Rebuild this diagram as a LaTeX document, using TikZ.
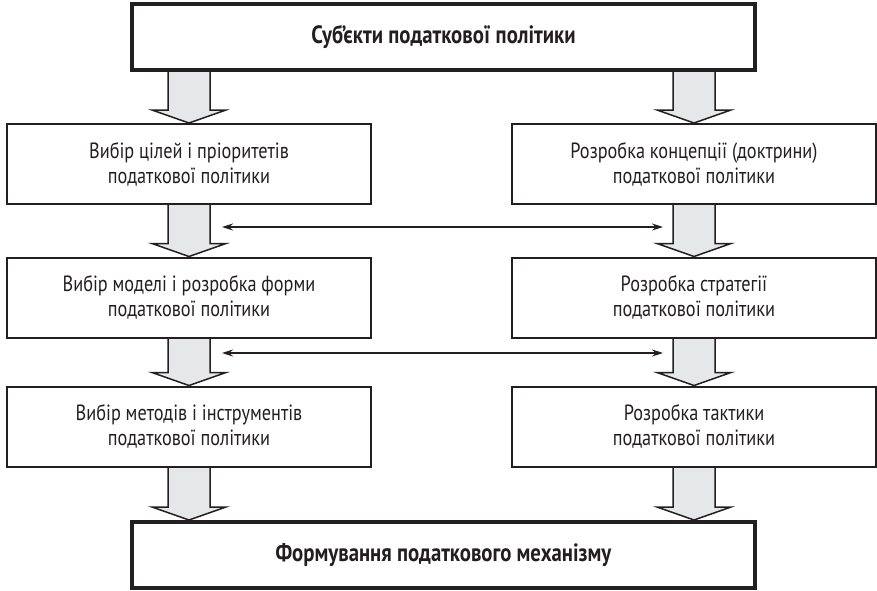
\documentclass[tikz,border=0pt]{standalone}
\usepackage{fontspec}
\setmainfont{PT Sans}[FakeStretch=0.83]
\usetikzlibrary{calc,arrows.meta}
\definecolor{ink}{HTML}{231F20}
\definecolor{arrowfill}{HTML}{E6E7E8}
\pgfdeclarelayer{bg}
\pgfsetlayers{bg,main}
\tikzset{
  stagebox/.style={draw=ink, fill=white, line width=2pt, minimum width=364pt,
    minimum height=80pt, inner sep=0pt, align=center, text=ink,
    font=\fontsize{22}{25}\selectfont},
  mainbox/.style={draw=ink, fill=white, line width=4pt, minimum width=623pt,
    minimum height=66pt, inner sep=0pt, text=ink,
    font=\bfseries\fontsize{25}{28}\selectfont},
  blockarrow/.style={fill=arrowfill, draw=ink, line width=1.5pt, line join=miter},
  linkarrow/.style={draw=ink, line width=1.2pt,
    {Stealth[length=11pt,width=7pt]}-{Stealth[length=11pt,width=7pt]}}
}
% wide hollow arrow: starts under node #1, ends with its tip on node #2,
% runs down the vertical axis of node #3
\newcommand\flowarrow[3]{%
  \filldraw[blockarrow] let \p1=(#1.south), \p2=(#2.north), \p3=(#3.center) in
    (\x3-21pt,\y1) -- (\x3-21pt,\y2+13pt) -- (\x3-37pt,\y2+13pt) -- (\x3,\y2)
    -- (\x3+37pt,\y2+13pt) -- (\x3+21pt,\y2+13pt) -- (\x3+21pt,\y1);
}
\begin{document}
\begin{tikzpicture}[x=1pt,y=-1pt]
  \useasboundingbox (0,0) rectangle (877,590);

  \node[mainbox] (subj) at (443.5,37) {Суб’єкти податкової політики};

  \node[stagebox] (l1) at (189,164) {Вибір цілей і пріоритетів\\податкової політики};
  \node[stagebox] (r1) at (694,164) {Розробка концепції (доктрини)\\податкової політики};
  \node[stagebox] (l2) at (189,297.5) {Вибір моделі і розробка форми\\податкової політики};
  \node[stagebox] (r2) at (694,297.5) {Розробка стратегії\\податкової політики};
  \node[stagebox] (l3) at (189,426.5) {Вибір методів і інструментів\\податкової політики};
  \node[stagebox] (r3) at (694,426.5) {Розробка тактики\\податкової політики};

  \node[mainbox] (mech) at (443.5,555) {Формування податкового механізму};

  \begin{pgfonlayer}{bg}
    \flowarrow{subj}{l1}{l1}
    \flowarrow{subj}{r1}{r1}
    \flowarrow{l1}{l2}{l2}
    \flowarrow{r1}{r2}{r2}
    \flowarrow{l2}{l3}{l3}
    \flowarrow{r2}{r3}{r3}
    \flowarrow{l3}{mech}{l3}
    \flowarrow{r3}{mech}{r3}
  \end{pgfonlayer}

  \coordinate (link1a) at (222,227);
  \coordinate (link1b) at (663,227);
  \coordinate (link2a) at (222,353);
  \coordinate (link2b) at (663,353);
  \draw[linkarrow] (link1a) -- (link1b);
  \draw[linkarrow] (link2a) -- (link2b);
\end{tikzpicture}
\end{document}
